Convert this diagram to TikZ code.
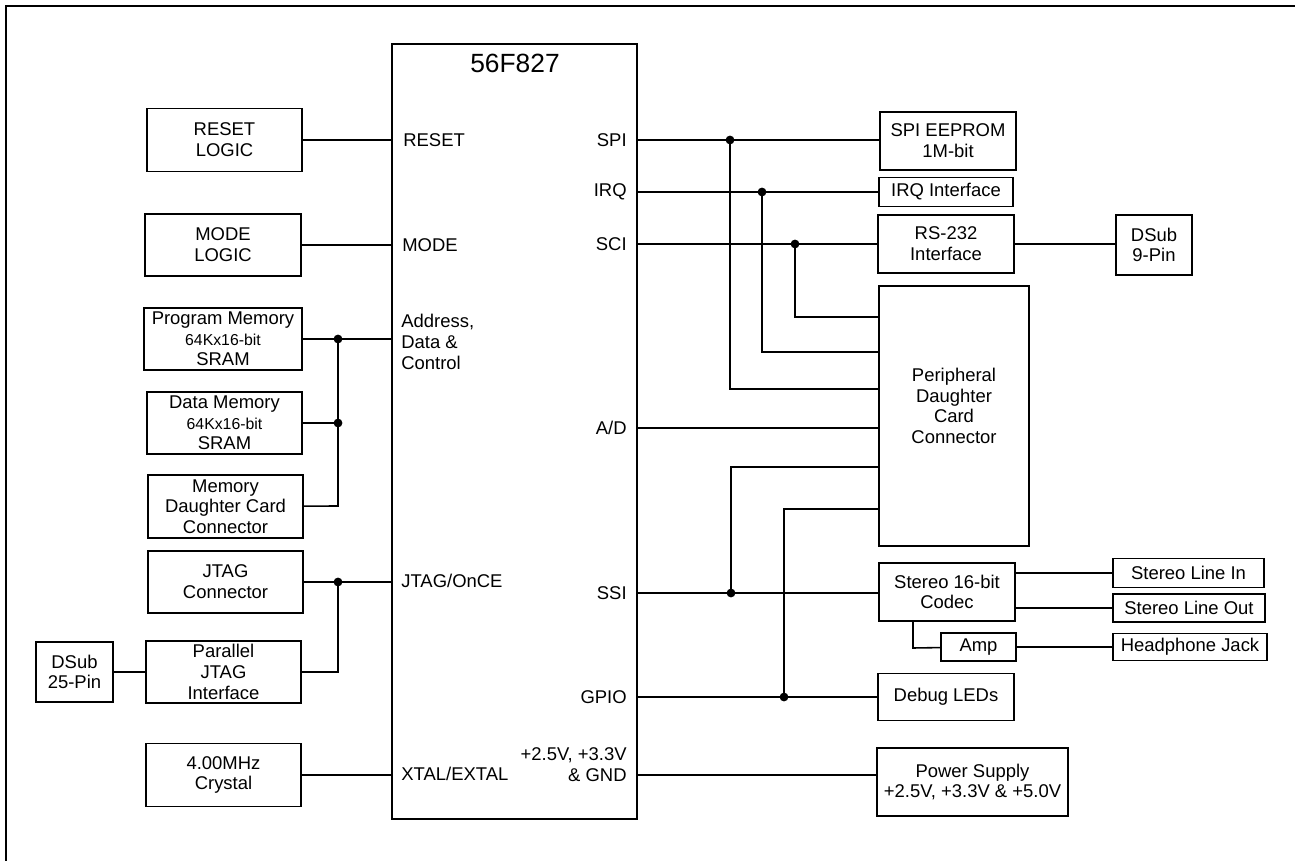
\documentclass[tikz,border=0pt]{standalone}
\usepackage{fontspec}
\setmainfont{Liberation Sans}
\newcommand\memsize{\fontsize{9}{10.5}\selectfont}
\begin{document}
\begin{tikzpicture}[x=0.02cm,y=-0.02cm,line join=miter,
  blk/.style={draw,line width=0.9pt,align=center,inner sep=0pt,font=\fontsize{10.5}{11.8}\selectfont},
  pinlbl/.style={inner sep=0pt,font=\fontsize{10.5}{11.8}\selectfont},
  wire/.style={line width=0.9pt},
  jdot/.style={fill=black}]
\useasboundingbox (0,0) rectangle (1295,861);
\draw[wire] (6,861) -- (6,6) -- (1295,6);

\node[blk,minimum width=4.9cm,minimum height=15.5cm] (mcu) at (514.5,431.5) {};
\node[font=\fontsize{15}{18}\selectfont,inner sep=0pt] (title) at (515,63) {56F827};

\node[pinlbl,anchor=west] (pRes) at (403,140) {RESET};
\node[pinlbl,anchor=west] (pMode) at (402,245) {MODE};
\node[pinlbl,anchor=west,align=left] (pBus) at (401,342) {Address,\\Data \&\\Control};
\node[pinlbl,anchor=west] (pJtag) at (401,581) {JTAG/OnCE};
\node[pinlbl,anchor=west] (pXtal) at (401,774) {XTAL/EXTAL};
\node[pinlbl,anchor=east] (pSpi) at (627,140) {SPI};
\node[pinlbl,anchor=east] (pIrq) at (627,192) {IRQ};
\node[pinlbl,anchor=east] (pSci) at (627,244) {SCI};
\node[pinlbl,anchor=east] (pAd) at (627,428) {A/D};
\node[pinlbl,anchor=east] (pSsi) at (627,593) {SSI};
\node[pinlbl,anchor=east] (pGpio) at (627,697) {GPIO};
\node[pinlbl,anchor=east,align=right] (pPwr) at (627,765) {+2.5V, +3.3V\\\& GND};

\node[blk,minimum width=3.1cm,minimum height=1.26cm] (reset) at (224.5,140) {RESET\\LOGIC};
\node[blk,minimum width=3.12cm,minimum height=1.24cm] (mode) at (223,245) {MODE\\LOGIC};
\node[blk,minimum width=3.16cm,minimum height=1.24cm] (progmem) at (223,339) {Program Memory\\\memsize 64Kx16-bit\\SRAM};
\node[blk,minimum width=3.1cm,minimum height=1.24cm] (datamem) at (224.5,423) {Data Memory\\\memsize 64Kx16-bit\\SRAM};
\node[blk,minimum width=3.1cm,minimum height=1.26cm] (memdc) at (225.5,506.5) {Memory\\Daughter Card\\Connector};
\node[blk,minimum width=3.1cm,minimum height=1.24cm] (jtagconn) at (225.5,582) {JTAG\\Connector};
\node[blk,minimum width=3.1cm,minimum height=1.24cm] (parjtag) at (223.5,672) {Parallel\\JTAG\\Interface};
\node[blk,minimum width=1.54cm,minimum height=1.2cm] (dsub25) at (74.5,672) {DSub\\25-Pin};
\node[blk,minimum width=3.1cm,minimum height=1.26cm] (crystal) at (223.5,775) {4.00MHz\\Crystal};

\node[blk,minimum width=2.72cm,minimum height=1.16cm] (eeprom) at (948,141) {SPI EEPROM\\1M-bit};
\node[blk,minimum width=2.68cm,minimum height=0.58cm] (irq) at (946,192) {IRQ Interface};
\node[blk,minimum width=2.72cm,minimum height=1.16cm] (rs232) at (946,244) {RS-232\\Interface};
\node[blk,minimum width=1.52cm,minimum height=1.2cm] (dsub9) at (1154,245) {DSub\\9-Pin};
\node[blk,minimum width=3cm,minimum height=5.2cm] (pdc) at (954,416) {};
\node[inner sep=0pt,align=center,font=\fontsize{10.5}{11.8}\selectfont] (pdcText) at (954,406) {Peripheral\\Daughter\\Card\\Connector};
\node[blk,minimum width=2.72cm,minimum height=1.16cm] (codec) at (947,592) {Stereo 16-bit\\Codec};
\node[blk,minimum width=3.02cm,minimum height=0.58cm] (linein) at (1188.5,573) {Stereo Line In};
\node[blk,minimum width=3.04cm,minimum height=0.56cm] (lineout) at (1189,608) {Stereo Line Out};
\node[blk,minimum width=1.5cm,minimum height=0.56cm] (amp) at (978.5,647) {Amp};
\node[blk,minimum width=3.08cm,minimum height=0.54cm] (hpjack) at (1190,647) {Headphone Jack};
\node[blk,minimum width=2.72cm,minimum height=0.94cm] (debug) at (946,697) {Debug LEDs};
\node[blk,minimum width=3.82cm,minimum height=1.36cm] (power) at (972.5,782) {Power Supply\\+2.5V, +3.3V \& +5.0V};

\coordinate (jProg) at (338,339);
\coordinate (jData) at (338,423);
\coordinate (jMem) at (338,506);
\coordinate (jJtag) at (338,582);
\coordinate (jPar) at (338,672);
\draw[wire] (reset) -- (reset -| mcu.west);
\draw[wire] (mode) -- (mode -| mcu.west);
\draw[wire] (progmem) -- (progmem -| mcu.west);
\draw[wire] (datamem) -- (jData);
\draw[wire] (memdc) -- (jMem) -- (jProg);
\draw[wire] (jtagconn) -- (jtagconn -| mcu.west);
\draw[wire] (parjtag) -- (jPar) -- (jJtag);
\draw[wire] (dsub25) -- (parjtag);
\draw[wire] (crystal) -- (crystal -| mcu.west);
\fill[jdot] (jProg) circle (2.5pt);
\fill[jdot] (jData) circle (2.5pt);
\fill[jdot] (jJtag) circle (2.5pt);

\coordinate (jSpi) at (730,140);
\coordinate (jIrq) at (762,192);
\coordinate (jSci) at (795,244);
\coordinate (jSsi) at (731,593);
\coordinate (jGpio) at (784,697);
\coordinate (jPwr) at (637,775);
\coordinate (kSpi) at (730,389);
\coordinate (kIrq) at (762,352);
\coordinate (kSci) at (795,317);
\coordinate (kSsi) at (731,467);
\coordinate (kGpio) at (784,509);
\coordinate (kAmp) at (913,648);
\draw[wire] (jSpi -| mcu.east) -- (jSpi -| eeprom.west);
\draw[wire] (jIrq -| mcu.east) -- (jIrq -| irq.west);
\draw[wire] (jSci -| mcu.east) -- (jSci -| rs232.west);
\draw[wire] (rs232.east) -- (rs232.east -| dsub9.west);
\draw[wire] (jSpi) -- (kSpi) -- (kSpi -| pdc.west);
\draw[wire] (jIrq) -- (kIrq) -- (kIrq -| pdc.west);
\draw[wire] (jSci) -- (kSci) -- (kSci -| pdc.west);
\draw[wire] (pAd.east -| mcu.east) -- (pAd.east -| pdc.west);
\draw[wire] (jSsi -| mcu.east) -- (jSsi -| codec.west);
\draw[wire] (jSsi) -- (kSsi) -- (kSsi -| pdc.west);
\draw[wire] (jGpio -| mcu.east) -- (jGpio -| debug.west);
\draw[wire] (jGpio) -- (kGpio) -- (kGpio -| pdc.west);
\draw[wire] (jPwr) -- (jPwr -| power.west);
\draw[wire] (linein -| codec.east) -- (linein);
\draw[wire] (lineout -| codec.east) -- (lineout);
\draw[wire] (kAmp |- codec.south) -- (kAmp) -- (amp);
\draw[wire] (amp) -- (hpjack);
\fill[jdot] (jSpi) circle (2.5pt);
\fill[jdot] (jIrq) circle (2.5pt);
\fill[jdot] (jSci) circle (2.5pt);
\fill[jdot] (jSsi) circle (2.5pt);
\fill[jdot] (jGpio) circle (2.5pt);
\end{tikzpicture}
\end{document}
